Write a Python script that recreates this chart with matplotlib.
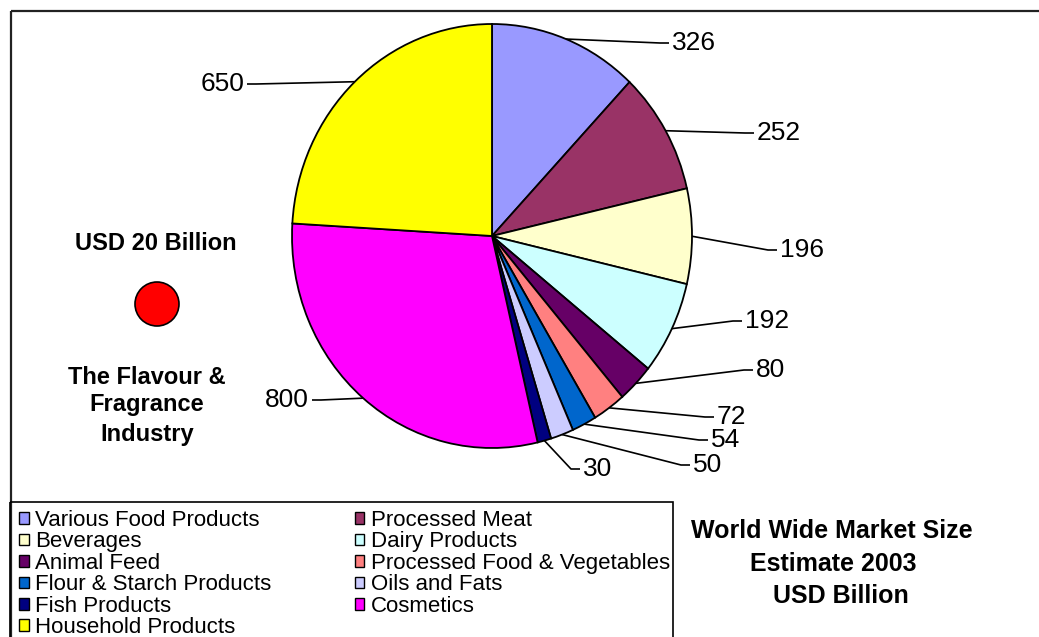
import matplotlib
matplotlib.use("Agg")
import matplotlib.pyplot as plt
from matplotlib.patches import Patch, Rectangle, Ellipse
import numpy as np

plt.rcParams['font.family'] = ['Liberation Sans', 'DejaVu Sans']

# data
categories = ["Various Food Products", "Processed Meat", "Beverages", "Dairy Products",
              "Animal Feed", "Processed Food & Vegetables", "Flour & Starch Products",
              "Oils and Fats", "Fish Products", "Cosmetics", "Household Products"]
values = [326, 252, 196, 192, 80, 72, 54, 50, 30, 800, 650]
colors = ["#9999FF", "#993366", "#FFFFCC", "#CCFFFF", "#660066", "#FF8080",
          "#0066CC", "#CCCCFF", "#000080", "#FF00FF", "#FFFF00"]

# label anchor (pixel, from top-left): x of text edge, y of text centre, side
label_pos = [(672, 43, 'r'), (757, 133, 'r'), (780, 250, 'r'), (745, 321, 'r'),
             (756, 370, 'r'), (717, 417, 'r'), (711, 440, 'r'), (693, 465, 'r'),
             (583, 469, 'r'), (309, 400, 'l'), (244, 84, 'l')]

W, H = 1039, 637
fig = plt.figure(figsize=(W / 100, H / 100), dpi=100)

# background axes in pixel coordinates
bg = fig.add_axes([0, 0, 1, 1])
bg.set_xlim(0, W)
bg.set_ylim(H, 0)
bg.axis('off')

# outer chart frame
bg.add_patch(Rectangle((11, 11), W + 20, H + 20, fill=False, edgecolor='#222222', lw=1.6))

# pie (slightly elliptical like the original)
cx, cy, rx, ry = 492, 236, 200, 212
pax = fig.add_axes([(cx - rx) / W, (H - cy - ry) / H, 2 * rx / W, 2 * ry / H])
wedges, _ = pax.pie(values, colors=colors, startangle=90, counterclock=False, radius=1,
                    wedgeprops=dict(edgecolor='black', linewidth=1.3))
pax.set_aspect('auto')
pax.set_xlim(-1, 1)
pax.set_ylim(-1, 1)
pax.axis('off')

# value labels with leader lines
total = sum(values)
start = 0
for v, (tx, ty, side) in zip(values, label_pos):
    mid = (start + v / 2) / total * 2 * np.pi
    start += v
    ex = cx + rx * np.sin(mid)
    ey = cy - ry * np.cos(mid)
    if side == 'r':
        xs = [ex, tx - 12, tx - 3]
        ha = 'left'
    else:
        xs = [ex, tx + 12, tx + 3]
        ha = 'right'
    bg.plot(xs, [ey, ty, ty], color='black', lw=1.2, solid_capstyle='butt')
    bg.text(tx, ty, str(v), ha=ha, va='center', fontsize=19)

# legend box + legend (row-major order like the original)
bg.add_patch(Rectangle((10, 502), 663, 200, fill=False, edgecolor='black', lw=1.2))
handles = [Patch(facecolor=c, edgecolor='black', linewidth=1.0) for c in colors]
order = list(range(0, len(categories), 2)) + list(range(1, len(categories), 2))
leg = fig.legend([handles[i] for i in order], [categories[i] for i in order],
                 ncol=2, loc='upper left', bbox_to_anchor=(19 / W, 1 - 510 / H),
                 frameon=False, fontsize=16, handlelength=0.43, handleheight=0.43,
                 handletextpad=0.3, labelspacing=0.02, columnspacing=3.75,
                 borderpad=0, borderaxespad=0)

# side annotations
bold = dict(fontsize=17, fontweight='bold', ha='center', va='center')
bg.text(156, 243, "USD 20 Billion", **bold)
bg.add_patch(Ellipse((157, 304), 44, 44, facecolor='red', edgecolor='black', lw=1.2))
bg.text(147, 377, "The Flavour &", **bold)
bg.text(147, 405, "Fragrance", **bold)
bg.text(147, 434, "Industry", **bold)

bold_r = dict(bold, fontsize=18)
bg.text(832, 531, "World Wide Market Size", **bold_r)
bg.text(833, 564, "Estimate 2003", **bold_r)
bg.text(841, 596, "USD Billion", **bold_r)

fig.savefig("out.png", dpi=100)
